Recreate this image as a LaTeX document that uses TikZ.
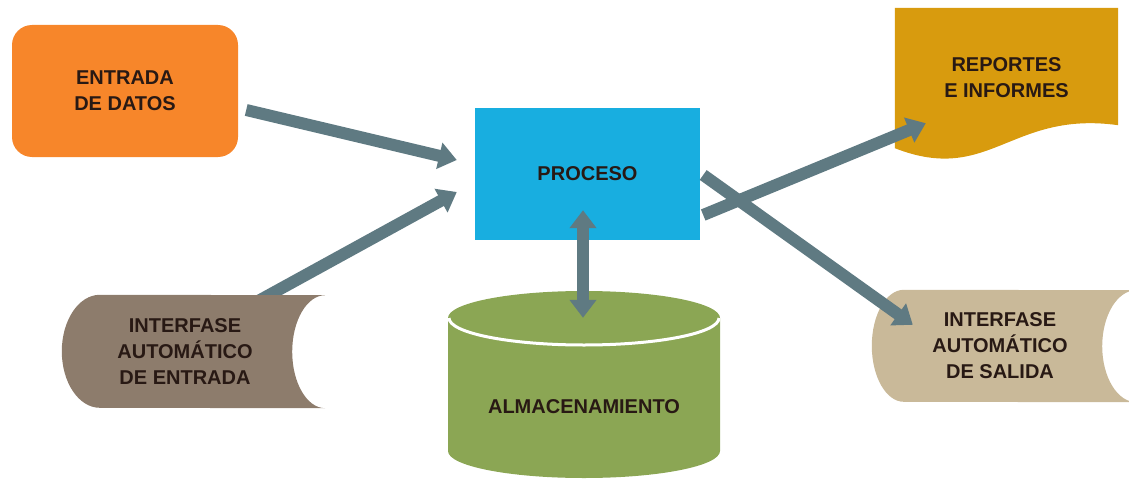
\documentclass[tikz,border=0pt]{standalone}
\usepackage{fontspec}
\setmainfont{Liberation Sans}
\usetikzlibrary{calc,arrows.meta,backgrounds}

\definecolor{entorange}{RGB}{247,134,42}
\definecolor{procblue}{RGB}{24,174,224}
\definecolor{repgold}{RGB}{216,155,14}
\definecolor{almgreen}{RGB}{139,166,84}
\definecolor{inbrown}{RGB}{141,124,108}
\definecolor{outbeige}{RGB}{201,185,153}
\definecolor{arrgray}{RGB}{95,122,130}
\definecolor{txtdark}{RGB}{40,25,20}

\tikzset{
  bigtri/.tip={Triangle[length=18pt,width=26pt]},
  lbl/.style={font=\bfseries\fontsize{20}{26}\selectfont, text=txtdark,
    align=center, inner sep=0pt},
  flow/.style={draw=arrgray, line width=12pt, -bigtri},
}

\begin{document}
\begin{tikzpicture}[x=1pt,y=1pt]
\useasboundingbox (0,0) rectangle (1129,483);

\def\rx{136} % cylinder radius
\def\ry{27}  % cylinder end

% the blocks
\node[lbl, fill=entorange, rounded corners=20pt,
  minimum width=226pt, minimum height=132pt] (ent) at (125,392) {ENTRADA\\DE DATOS};
\node[lbl, fill=procblue, minimum width=225pt, minimum height=132pt] (proc) at (587.5,309) {PROCESO};
\node[lbl, minimum width=223pt, minimum height=140pt] (rep) at (1006.5,405) {REPORTES\\E INFORMES};
\node[lbl, minimum width=246pt, minimum height=113pt] (intin) at (185,131.5) {INTERFASE\\AUTOMÁTICO\\DE ENTRADA};
\node[lbl, minimum width=256pt, minimum height=112pt] (intout) at (1000,137) {INTERFASE\\AUTOMÁTICO\\DE SALIDA};
\node[lbl, minimum width=272pt, minimum height=178pt] (alm) at (584,76) {ALMACENAMIENTO};

\begin{scope}[on background layer]
% this one goes under the interface shape
\draw[flow] ($(intin.north)+(70,-8)$) -- ($(proc.west)+(-18,-18)$);
% document shape
\fill[repgold] (rep.north west) -- (rep.north east) -- ($(rep.south east)+(0,23)$)
  .. controls ($(rep.south east)+(-108,38)$) and ($(rep.south west)+(95,-37)$) .. (rep.south west) -- cycle;
% input interface
\fill[inbrown] ($(intin.north west)+(38,0)$) arc[start angle=90,end angle=270,x radius=38,y radius=56.5]
  -- ($(intin.south east)+(17,0)$) arc[start angle=270,end angle=90,x radius=33,y radius=56.5] -- cycle;
% output interface
\fill[outbeige] ($(intout.north west)+(32,0)$) arc[start angle=90,end angle=270,x radius=32,y radius=56]
  -- ($(intout.south east)+(8,0)$) arc[start angle=270,end angle=90,x radius=34,y radius=56] -- cycle;
% storage cylinder
\fill[almgreen] (448,165) -- (448,32) arc[start angle=180,end angle=360,x radius=\rx,y radius=\ry]
  -- (720,165) arc[start angle=0,end angle=180,x radius=\rx,y radius=\ry] -- cycle;
\draw[white, line width=3pt] (449,165) arc[start angle=180,end angle=360,x radius=\rx-1,y radius=\ry];
\end{scope}

% arrows
\draw[flow] ($(ent.east)+(8,-19)$) -- ($(proc.west)+(-18,14)$);
\draw[flow] ($(proc.east)+(3,-1)$) -- ($(intout.north west)+(41,-35)$);
\draw[flow] ($(proc.east)+(3,-41)$) -- ($(rep.south west)+(31,25)$);
\draw[flow, bigtri-bigtri] ($(proc.south)+(-4.5,30)$) -- ($(alm.north)+(-1,0)$);
\end{tikzpicture}
\end{document}
